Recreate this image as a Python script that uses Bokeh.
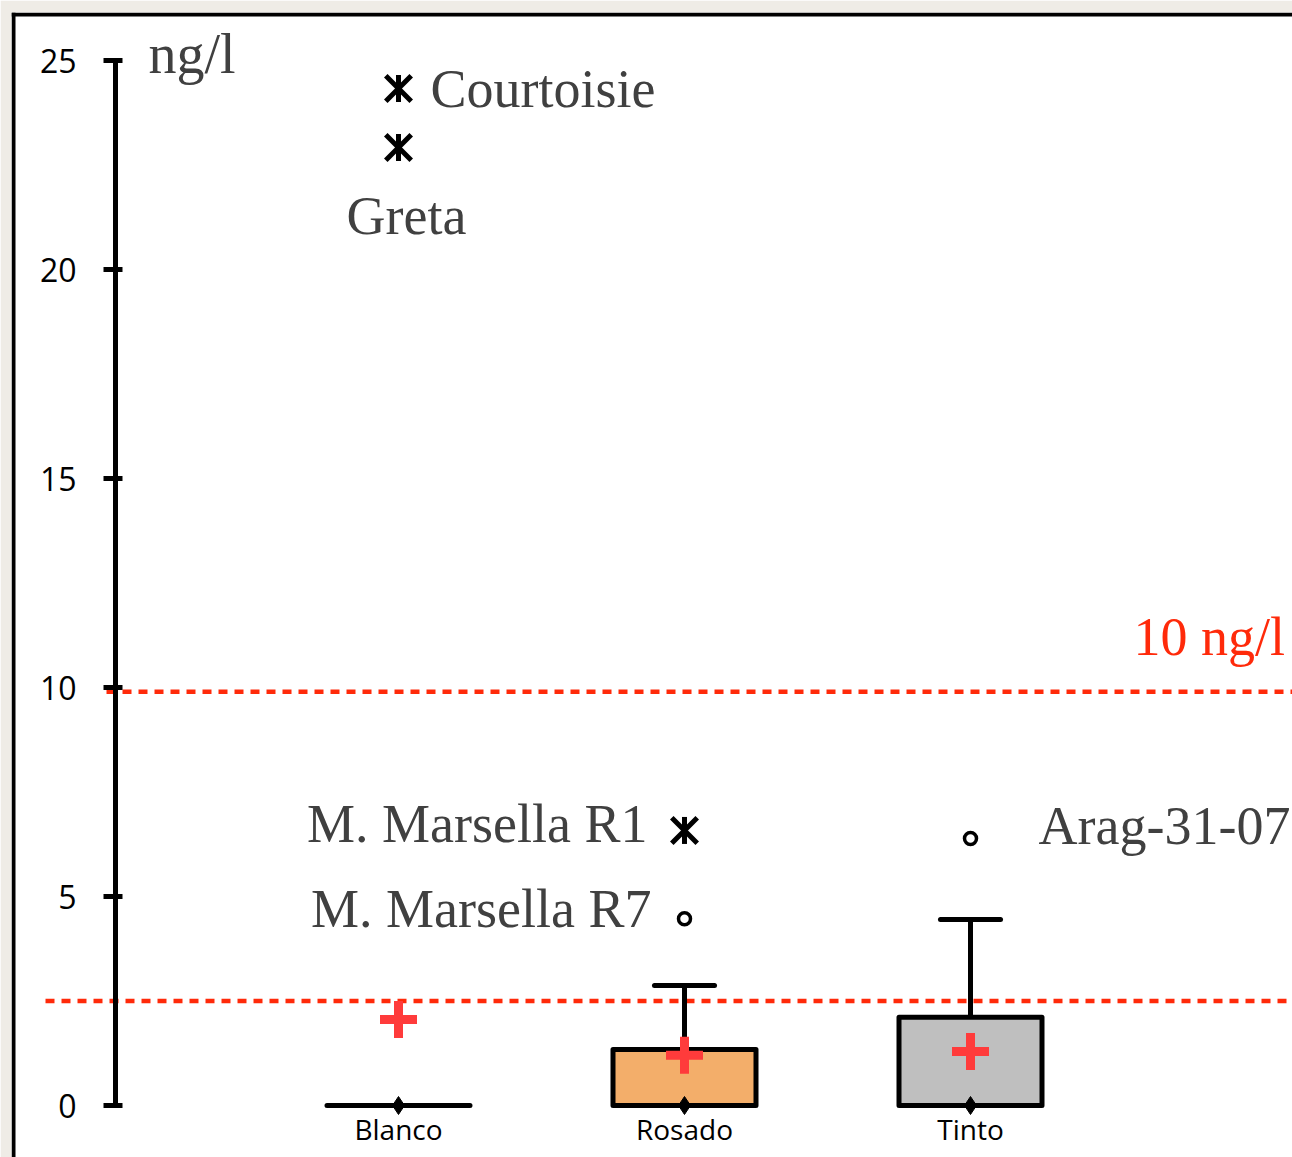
from bokeh.plotting import figure
from bokeh.models import Range1d, LinearAxis, FixedTicker, Span
from bokeh.core.properties import value
from bokeh.embed import file_html
from bokeh.resources import INLINE
import math

# ---------------- data ----------------
categories = ["Blanco", "Rosado", "Tinto"]
q1 = [0.0, 0.0, 0.0]
median = [0.0, 0.0, 0.0]
q3 = [0.0, 1.34, 2.11]
upper_whisker = [0.0, 2.87, 4.45]
mean = [2.06, 1.20, 1.29]
box_colors = ["#ffffff", "#f3ae6a", "#bfbfbf"]

star_cat = ["Blanco", "Blanco", "Rosado"]
star_val = [24.33, 22.92, 6.58]
star_name = ["Courtoisie", "Greta", "M. Marsella R1"]

circ_cat = ["Rosado", "Tinto"]
circ_val = [4.47, 6.39]
circ_name = ["M. Marsella R7", "Arag-31-07"]

y_ticks = [0, 5, 10, 15, 20, 25]
limit_high = 9.9
limit_low = 2.5
unit_label = "ng/l"
limit_label = "10 ng/l"

# ---------------- layout constants ----------------
W, H = 1292, 1157
MIN_L, MIN_T = 11, 12
FW, FH = W - MIN_L, H - MIN_T
PX_X = 286.0          # pixels per category step
PX_Y = 41.8           # pixels per ng/l
x_start = 1 - 387 / PX_X
x_end = x_start + FW / PX_X
y_end = 25 + 48 / PX_Y
y_start = y_end - FH / PX_Y

def fx(px):
    return x_start + px / PX_X

def fy(py):
    return y_end - py / PX_Y

CREAM = "#efece6"
RED = "#ff2a0a"
GRAY = "#404040"
SERIF = value("Liberation Serif")
BASE_FIX = -19   # baseline correction for svg text
LW = 5

xpos = {c: i + 1 for i, c in enumerate(categories)}

p = figure(width=W, height=H,
           x_range=Range1d(x_start, x_end), y_range=Range1d(y_start, y_end),
           output_backend="svg", toolbar_location=None,
           x_axis_location=None, y_axis_location=None,
           min_border_left=MIN_L, min_border_top=MIN_T,
           min_border_right=0, min_border_bottom=0,
           outline_line_color=None, border_fill_color=CREAM,
           background_fill_color="white")
p.grid.visible = False

# frame borders (left and top)
p.add_layout(Span(location=fx(2), dimension="height", line_color="black", line_width=4))
p.add_layout(Span(location=fy(2), dimension="width", line_color="black", line_width=4))

# threshold lines
p.segment(x0=[fx(95), fx(34)], x1=[x_end, x_end], y0=[limit_high, limit_low],
          y1=[limit_high, limit_low], line_color=RED, line_width=4.5, line_dash="9 7")

xs = [xpos[c] for c in categories]

# whiskers
wh = [i for i in range(len(categories)) if upper_whisker[i] > q3[i]]
p.segment(x0=[xs[i] for i in wh], x1=[xs[i] for i in wh],
          y0=[q3[i] for i in wh], y1=[upper_whisker[i] for i in wh],
          line_color="black", line_width=LW)
CAP = 0.105
p.segment(x0=[xs[i] - CAP for i in wh], x1=[xs[i] + CAP for i in wh],
          y0=[upper_whisker[i] for i in wh], y1=[upper_whisker[i] for i in wh],
          line_color="black", line_width=LW, line_cap="round")

# boxes
p.vbar(x=xs, bottom=q1, top=q3, width=0.5, fill_color=box_colors,
       line_color="black", line_width=LW, line_join="round")

# medians
p.scatter(x=xs, y=median, marker="diamond", size=18, fill_color="black", line_color="black")

# means
p.scatter(x=xs, y=mean, marker="cross", size=37, line_color="#ff3b3b", line_width=9)

# outliers: stars
sx = [xpos[c] for c in star_cat]
p.scatter(x=sx, y=star_val, marker="x", size=36, line_color="black", line_width=5)
p.scatter(x=sx, y=star_val, marker="dash", angle=math.pi / 2, size=27,
          line_color="black", line_width=5)

# outliers: circles
cx = [xpos[c] for c in circ_cat]
p.scatter(x=cx, y=circ_val, marker="circle", size=12, fill_color="white",
          line_color="black", line_width=3.5)

# outlier labels
label_place = {
    "Courtoisie": (32, 19, "left"),
    "Greta": (-52, 88, "left"),
    "M. Marsella R1": (-37, 13, "right"),
    "M. Marsella R7": (-33, 9, "right"),
    "Arag-31-07": (68, 7, "left"),
}
for xx, yy, name in list(zip(sx, star_val, star_name)) + list(zip(cx, circ_val, circ_name)):
    dx, dy, al = label_place[name]
    p.text(x=[xx], y=[yy], text=[name], x_offset=dx, y_offset=dy + BASE_FIX,
           text_align=al, text_baseline="alphabetic", text_font=SERIF,
           text_font_size="54px", text_color=GRAY)

# axis label and limit label
AXIS_X = fx(104)
p.text(x=[AXIS_X], y=[25], text=[unit_label], x_offset=33, y_offset=12 + BASE_FIX,
       text_align="left", text_baseline="alphabetic", text_font=SERIF,
       text_font_size="56px", text_color=GRAY)
p.text(x=[x_end], y=[limit_high], text=[limit_label], x_offset=-159, y_offset=-36 + BASE_FIX,
       text_align="left", text_baseline="alphabetic", text_font=SERIF,
       text_font_size="54px", text_color=RED)

# axes
yaxis = LinearAxis(fixed_location=AXIS_X, ticker=FixedTicker(ticks=y_ticks),
                   bounds=(0, 25), axis_line_width=LW, axis_line_color="black",
                   major_tick_line_width=LW, major_tick_line_color="black",
                   major_tick_in=7, major_tick_out=12, minor_tick_line_color=None,
                   major_label_standoff=27, major_label_text_font="Open Sans",
                   major_label_text_font_size="32px", major_label_text_color="black")
p.add_layout(yaxis, "left")

xaxis = LinearAxis(fixed_location=0, ticker=FixedTicker(ticks=xs),
                   major_label_overrides={xpos[c]: c for c in categories},
                   axis_line_color=None, major_tick_line_color=None,
                   minor_tick_line_color=None, major_label_standoff=-2,
                   major_label_text_font="Open Sans",
                   major_label_text_font_size="28px", major_label_text_color="black")
p.add_layout(xaxis, "below")

html = file_html(p, INLINE)
html = html.replace("<body>", '<body style="margin:0;background-color:%s;">' % CREAM, 1)
open("out.html", "w").write(html)
